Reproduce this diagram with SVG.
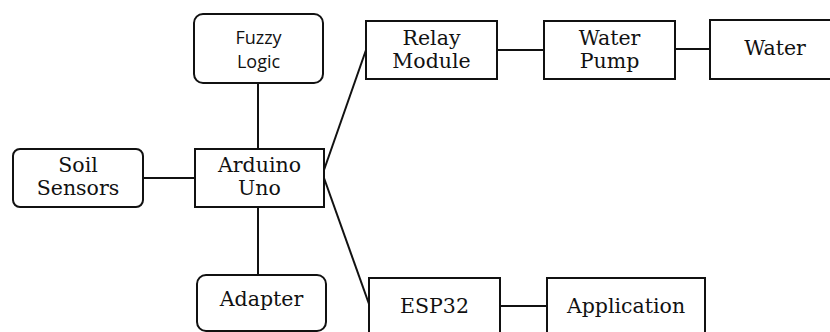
<svg xmlns="http://www.w3.org/2000/svg" width="830" height="332" viewBox="0 0 830 332">
<style>
.box{fill:#fff;stroke:#111;stroke-width:2}
.ln{stroke:#111;stroke-width:2;fill:none}
.t{font-family:"DejaVu Serif","Liberation Serif",serif;font-size:20.5px;fill:#111;text-anchor:middle}
.s{font-family:"Open Sans","Liberation Sans",sans-serif;font-size:18px;fill:#111;text-anchor:middle}
</style>
<rect width="830" height="332" fill="#fff"/>
<g id="connectors">
<line class="ln" x1="258" y1="83" x2="258" y2="149"/>
<line class="ln" x1="143" y1="178" x2="195" y2="178"/>
<line class="ln" x1="258" y1="207" x2="258" y2="275"/>
<line class="ln" x1="324" y1="170" x2="366" y2="50"/>
<line class="ln" x1="324" y1="178" x2="369" y2="304"/>
<line class="ln" x1="497" y1="50" x2="544" y2="50"/>
<line class="ln" x1="675" y1="49" x2="710" y2="49"/>
<line class="ln" x1="500" y1="306" x2="547" y2="306"/>
</g>
<g id="fuzzy">
<rect class="box" x="194" y="14" width="129" height="69" rx="9"/>
<text class="s" x="258.5" y="44">Fuzzy</text>
<text class="s" x="258.5" y="68">Logic</text>
</g>
<g id="relay">
<rect class="box" x="366" y="21" width="131" height="58"/>
<text class="t" x="431.5" y="45">Relay</text>
<text class="t" x="431.5" y="68">Module</text>
</g>
<g id="pump">
<rect class="box" x="544" y="21" width="131" height="58"/>
<text class="t" x="609.5" y="45">Water</text>
<text class="t" x="609.5" y="68">Pump</text>
</g>
<g id="water">
<rect class="box" x="710" y="20" width="130" height="59"/>
<text class="t" x="775" y="55">Water</text>
</g>
<g id="soil">
<rect class="box" x="13" y="149" width="130" height="58" rx="7"/>
<text class="t" x="78" y="172">Soil</text>
<text class="t" x="78" y="195">Sensors</text>
</g>
<g id="arduino">
<rect class="box" x="195" y="149" width="129" height="58"/>
<text class="t" x="259.5" y="172">Arduino</text>
<text class="t" x="259.5" y="195">Uno</text>
</g>
<g id="adapter">
<rect class="box" x="197" y="275" width="129" height="56" rx="9"/>
<text class="t" x="261.5" y="306">Adapter</text>
</g>
<g id="esp32">
<rect class="box" x="369" y="278" width="131" height="64"/>
<text class="t" x="434.5" y="313">ESP32</text>
</g>
<g id="application">
<rect class="box" x="547" y="278" width="158" height="64"/>
<text class="t" x="626" y="313">Application</text>
</g>
</svg>
